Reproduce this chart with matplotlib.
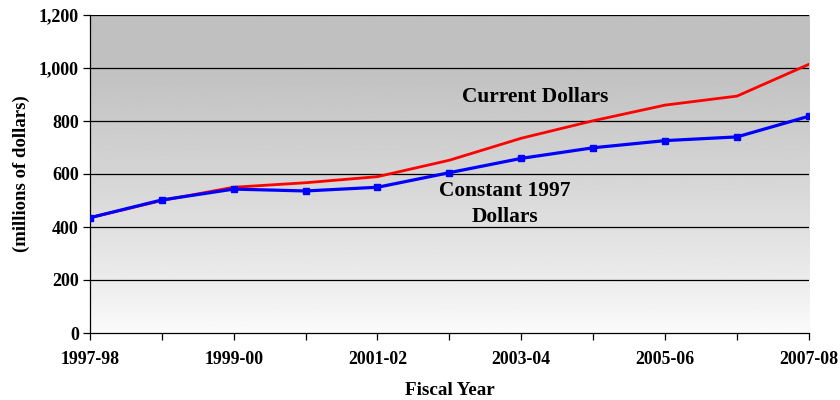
import matplotlib
matplotlib.use("Agg")
import matplotlib.pyplot as plt
import numpy as np
from matplotlib.ticker import FuncFormatter

years = ["1997-98", "1998-99", "1999-00", "2000-01", "2001-02", "2002-03",
         "2003-04", "2004-05", "2005-06", "2006-07", "2007-08"]
current = [435, 500, 550, 567, 590, 652, 735, 801, 860, 894, 1014]
constant_1997 = [435, 502, 543, 536, 550, 605, 659, 699, 726, 740, 818]

plt.rcParams["font.family"] = ["Liberation Serif", "DejaVu Serif"]
plt.rcParams["font.weight"] = "bold"

fig = plt.figure(figsize=(8.4, 4.0), dpi=100)
ax = fig.add_axes([0.107, 0.1675, 0.856, 0.795])

x = np.arange(len(years))
ax.set_xlim(0, len(years) - 1)
ax.set_ylim(0, 1200)

# grey-to-white backdrop
grad = np.linspace(0, 1, 256)
shade = np.clip(grad / 0.85, 0, 1) ** 0.8
img = 0.99 - shade * (0.99 - 0.753)
ax.imshow(img[:, None], aspect="auto", cmap="gray", vmin=0, vmax=1,
          extent=[0, len(years) - 1, 0, 1200], origin="lower", zorder=0)

for y in range(200, 1201, 200):
    ax.axhline(y, color="black", lw=0.9, zorder=1)

ax.plot(x, current, color="#ff0000", lw=2.0, zorder=3)
ax.plot(x, constant_1997, color="#0000ff", lw=2.3, marker="s", ms=4.5, zorder=4)

ax.set_xticks(x)
ax.set_xticklabels([lab if i % 2 == 0 else "" for i, lab in enumerate(years)],
                   fontsize=12.8, fontweight="bold")
ax.set_yticks(range(0, 1201, 200))
ax.yaxis.set_major_formatter(FuncFormatter(lambda v, p: f"{int(v):,}"))
for t in ax.get_yticklabels():
    t.set_fontsize(13)
    t.set_fontweight("bold")
ax.tick_params(axis="both", direction="out", length=5, width=0.9, color="black")
ax.tick_params(axis="x", pad=8)
ax.tick_params(axis="y", pad=3)

for side in ("top", "right"):
    ax.spines[side].set_visible(False)
for side in ("left", "bottom"):
    ax.spines[side].set_linewidth(0.9)

ax.set_xlabel("Fiscal Year", fontsize=13.8, fontweight="bold", labelpad=10)
ax.set_ylabel("(millions of dollars)", fontsize=13.5, fontweight="bold", labelpad=6)

ax.text(6.2, 890, "Current Dollars", fontsize=15.4, fontweight="bold",
        ha="center", va="center", zorder=5)
ax.text(5.77, 487, "Constant 1997\nDollars", fontsize=15.4, fontweight="bold",
        ha="center", va="center", linespacing=1.35, zorder=5)

fig.savefig("out.png", dpi=100)
